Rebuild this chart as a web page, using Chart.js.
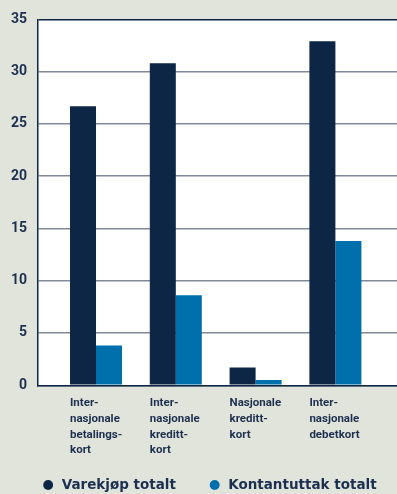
<!DOCTYPE html>
<html>
<head>
<meta charset="utf-8">
<script src="https://cdn.jsdelivr.net/npm/chart.js@4/dist/chart.umd.min.js"></script>
<style>
  html, body { margin: 0; padding: 0; background: #e1e4da; }
  #wrap { width: 397px; height: 494px; position: relative; }
</style>
</head>
<body>
<div id="wrap"><canvas id="kort-chart"></canvas></div>
<script>
const categories = [
    ['Inter-', 'nasjonale', 'betalings-', 'kort'],
    ['Inter-', 'nasjonale', 'kreditt-', 'kort'],
    ['Nasjonale', 'kreditt-', 'kort'],
    ['Inter-', 'nasjonale', 'debetkort']
];
const varekjop = [26.7, 30.8, 1.7, 32.9];
const kontantuttak = [3.8, 8.6, 0.5, 13.8];
const yTicks = [0, 5, 10, 15, 20, 25, 30, 35];

const navy = '#0e2645';
const blue = '#0070ad';
const textColor = '#1c2f50';

// labels start at the left edge of each group's first bar
const labelShift = 0.326;

// white plot background
const plotBg = {
    id: 'plotBg',
    beforeDraw(chart) {
        const a = chart.chartArea;
        const ctx = chart.ctx;
        ctx.save();
        ctx.fillStyle = '#ffffff';
        ctx.fillRect(a.left, a.top, a.right - a.left, a.bottom - a.top);
        ctx.restore();
    }
};

const toPoints = arr => arr.map((v, i) => ({ x: i, y: v }));

new Chart(document.getElementById('kort-chart'), {
    type: 'bar',
    data: {
        datasets: [
            { label: 'Varekjøp totalt', data: toPoints(varekjop), backgroundColor: navy },
            { label: 'Kontantuttak totalt', data: toPoints(kontantuttak), backgroundColor: blue }
        ]
    },
    options: {
        responsive: true,
        maintainAspectRatio: false,
        animation: false,
        categoryPercentage: 0.652,
        barPercentage: 1,
        // negative right padding only widens the legend box
        layout: { padding: { left: 0, right: -21, top: 16, bottom: 0 } },
        scales: {
            x: {
                type: 'linear',
                offset: false,
                bounds: 'data',
                min: -0.727,
                max: 3.772,
                grid: { display: false, drawTicks: false },
                border: { color: navy, width: 1.5 },
                afterBuildTicks: axis => {
                    axis.ticks = categories.map((_, i) => ({ value: i - labelShift }));
                },
                afterFit: axis => { axis.height = 61; },
                ticks: {
                    autoSkip: false,
                    maxRotation: 0,
                    align: 'start',
                    // mirrored labels are not clipped to the axis box,
                    // the negative padding pushes them back below the axis
                    mirror: true,
                    padding: -25.85,
                    color: textColor,
                    font: { family: 'Roboto', size: 11.5, weight: 'bold', lineHeight: 1.365 },
                    callback: (value, index) => categories[index]
                }
            },
            y: {
                min: 0,
                max: 35,
                afterBuildTicks: axis => {
                    axis.ticks = yTicks.map(v => ({ value: v }));
                },
                afterFit: axis => { axis.width = 38; },
                grid: {
                    drawTicks: false,
                    color: c => c.tick && c.tick.value === 35 ? navy : '#808a99',
                    lineWidth: 1.5
                },
                border: { color: navy, width: 1.5 },
                ticks: {
                    padding: 11,
                    color: textColor,
                    font: { family: 'Roboto', size: 14, weight: 'bold' }
                }
            }
        },
        plugins: {
            legend: {
                position: 'bottom',
                maxHeight: 47.75,
                labels: {
                    usePointStyle: true,
                    pointStyle: 'circle',
                    boxWidth: 14,
                    boxHeight: 7,
                    padding: 32,
                    color: textColor,
                    font: { family: 'DejaVu Sans', size: 13.5, weight: 'bold' }
                }
            },
            tooltip: { enabled: false }
        }
    },
    plugins: [plotBg]
});
</script>
</body>
</html>
